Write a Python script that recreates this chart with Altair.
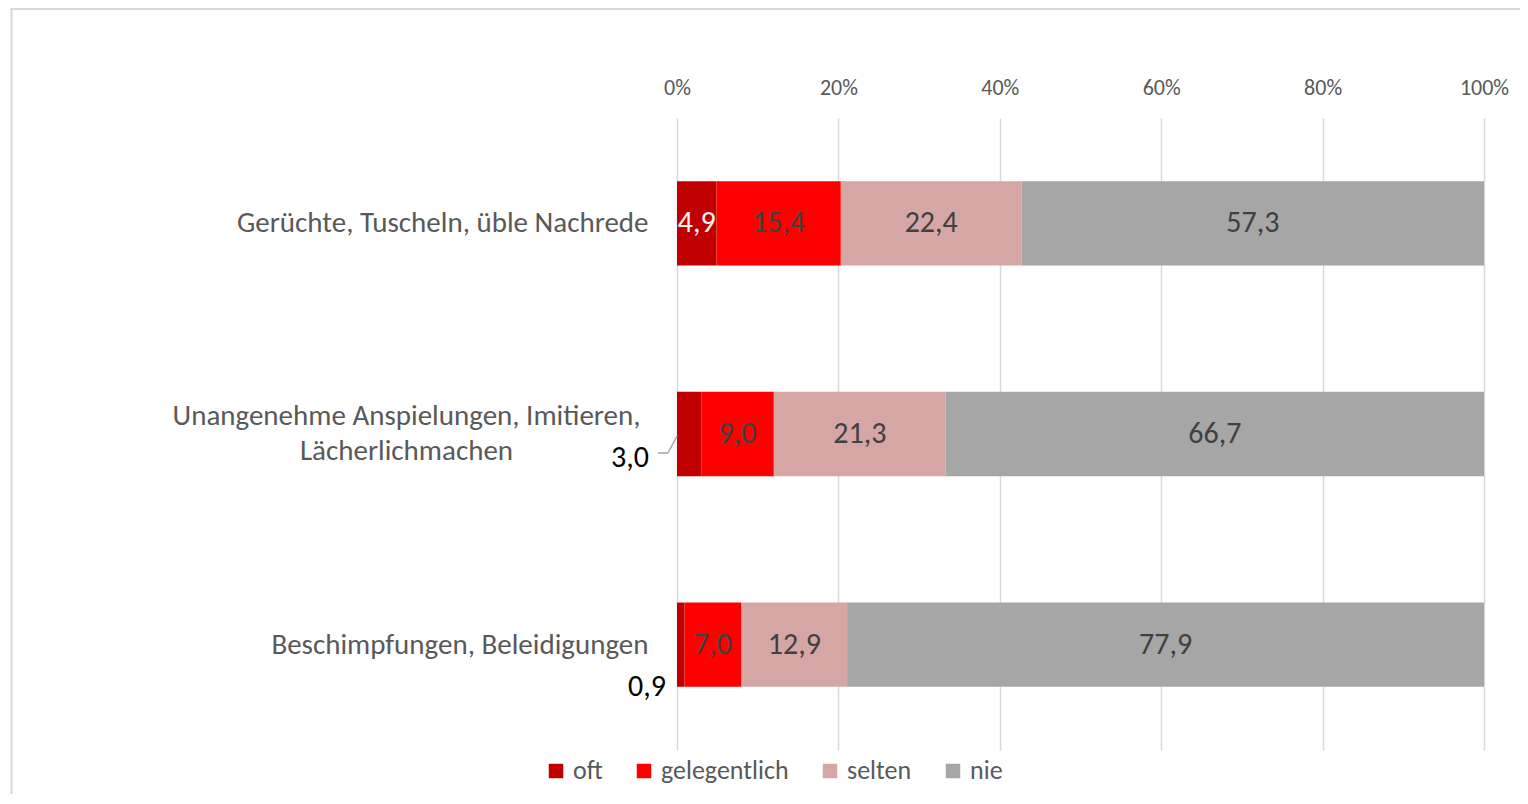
import altair as alt
import pandas as pd

categories = [
    "Gerüchte, Tuscheln, üble Nachrede",
    "Unangenehme Anspielungen, Imitieren, Lächerlichmachen",
    "Beschimpfungen, Beleidigungen",
]
series = ["oft", "gelegentlich", "selten", "nie"]
oft = [4.9, 3.0, 0.9]
gelegentlich = [15.4, 9.0, 7.0]
selten = [22.4, 21.3, 12.9]
nie = [57.3, 66.7, 77.9]
colors = ["#C00000", "#FF0000", "#D5A6A3", "#A6A6A6"]
tick_values = [0, 0.2, 0.4, 0.6, 0.8, 1.0]

rows = []
for i, c in enumerate(categories):
    for j, (s, vals) in enumerate(zip(series, [oft, gelegentlich, selten, nie])):
        rows.append({"cat": c, "series": s, "order": j, "value": vals[i]})
df = pd.DataFrame(rows)

FONT = "Carlito, Calibri, Lato, sans-serif"
long_cat = categories[1]
is_long = f"datum.value == '{long_cat}'"

base = alt.Chart(df).transform_joinaggregate(
    total="sum(value)", groupby=["cat"]
).transform_window(
    cum="sum(value)", sort=[alt.SortField("order")], groupby=["cat"], frame=[None, 0]
).transform_calculate(
    end="datum.cum / datum.total",
    start="(datum.cum - datum.value) / datum.total",
    mid="(datum.cum - datum.value / 2) / datum.total",
    label="replace(format(datum.value, '.1f'), '.', ',')",
)

y_enc = alt.Y(
    "cat:N",
    sort=categories,
    scale=alt.Scale(paddingInner=0.6, paddingOuter=0.3),
    axis=alt.Axis(
        title=None,
        domain=False,
        ticks=False,
        labelFont=FONT,
        labelFontSize=29,
        labelColor="#595959",
        labelLimit=700,
        labelLineHeight=35,
        labelExpr=f"datum.label == '{long_cat}' ? ['Unangenehme Anspielungen, Imitieren,', 'Lächerlichmachen'] : datum.label",
        labelAlign={"condition": {"test": is_long, "value": "center"}, "value": "right"},
        labelPadding={"condition": {"test": is_long, "value": 271}, "value": 29},
        labelOffset={"condition": {"test": is_long, "value": -18}, "value": 0},
    ),
)

x_scale = alt.Scale(domain=[0, 1], nice=False)

bars = base.mark_bar().encode(
    x=alt.X(
        "start:Q",
        scale=x_scale,
        axis=alt.Axis(
            orient="top",
            format="%",
            values=tick_values,
            title=None,
            domain=False,
            ticks=False,
            labelFlush=False,
            labelFont=FONT,
            labelFontSize=22,
            labelColor="#595959",
            labelPadding=19,
            grid=True,
            gridColor="#D9D9D9",
            gridWidth=1.5,
        ),
    ),
    x2="end:Q",
    y=y_enc,
    color=alt.Color(
        "series:N",
        scale=alt.Scale(domain=series, range=colors),
        legend=alt.Legend(
            title=None,
            orient="none",
            legendX=-134,
            legendY=640,
            direction="horizontal",
            columns=4,
            symbolType="square",
            symbolSize=210,
            symbolStrokeWidth=0,
            labelFont=FONT,
            labelFontSize=26,
            labelColor="#595959",
            labelOffset=4,
            columnPadding=28,
        ),
    ),
    order=alt.Order("order:Q"),
)

inside = base.transform_filter("datum.value >= 4").mark_text(
    font=FONT, fontSize=30, baseline="middle", align="center"
).encode(
    x=alt.X("mid:Q", scale=x_scale),
    y=alt.Y("cat:N", sort=categories),
    text="label:N",
    color=alt.condition("datum.series == 'oft'", alt.value("#F2F2F2"), alt.value("#404040")),
)

out1 = base.transform_filter(
    f"datum.series == 'oft' && datum.cat == '{long_cat}'"
).mark_text(font=FONT, fontSize=30, baseline="middle", align="right", dx=-28, dy=24, color="#000000").encode(
    x=alt.X("start:Q", scale=x_scale),
    y=alt.Y("cat:N", sort=categories),
    text="label:N",
)

out2 = base.transform_filter(
    f"datum.series == 'oft' && datum.cat == '{categories[2]}'"
).mark_text(font=FONT, fontSize=30, baseline="middle", align="right", dx=-11, dy=42, color="#000000").encode(
    x=alt.X("start:Q", scale=x_scale),
    y=alt.Y("cat:N", sort=categories),
    text="label:N",
)

sel = "datum.order == 0 && datum.value == 3.0"
leader_a = alt.Chart(df).mark_rule(color="#A6A6A6", strokeWidth=1.5).encode(
    x=alt.value(-19), x2=alt.value(-9), y=alt.value(335)
).transform_filter(sel)
leader_b = alt.Chart(df).mark_rule(color="#A6A6A6", strokeWidth=1.5).encode(
    x=alt.value(-9), x2=alt.value(0), y=alt.value(335), y2=alt.value(318)
).transform_filter(sel)

frame_left = alt.Chart(df).mark_rule(color="#D9D9D9", strokeWidth=2).encode(
    x=alt.value(-665.5), y=alt.value(-110), y2=alt.value(700)
).transform_filter(sel)
frame_top = alt.Chart(df).mark_rule(color="#D9D9D9", strokeWidth=2).encode(
    x=alt.value(-666.5), x2=alt.value(900), y=alt.value(-109)
).transform_filter(sel)

chart = alt.layer(
    frame_left, frame_top, bars, inside, out1, out2, leader_a, leader_b
).properties(
    width=807,
    height=632,
    padding={"left": 669, "top": 110, "right": 36, "bottom": 44},
    autosize=alt.AutoSizeParams(type="none"),
    background="white",
).configure_view(stroke=None)

chart.save("out.html", embed_options={"renderer": "svg", "actions": False})
